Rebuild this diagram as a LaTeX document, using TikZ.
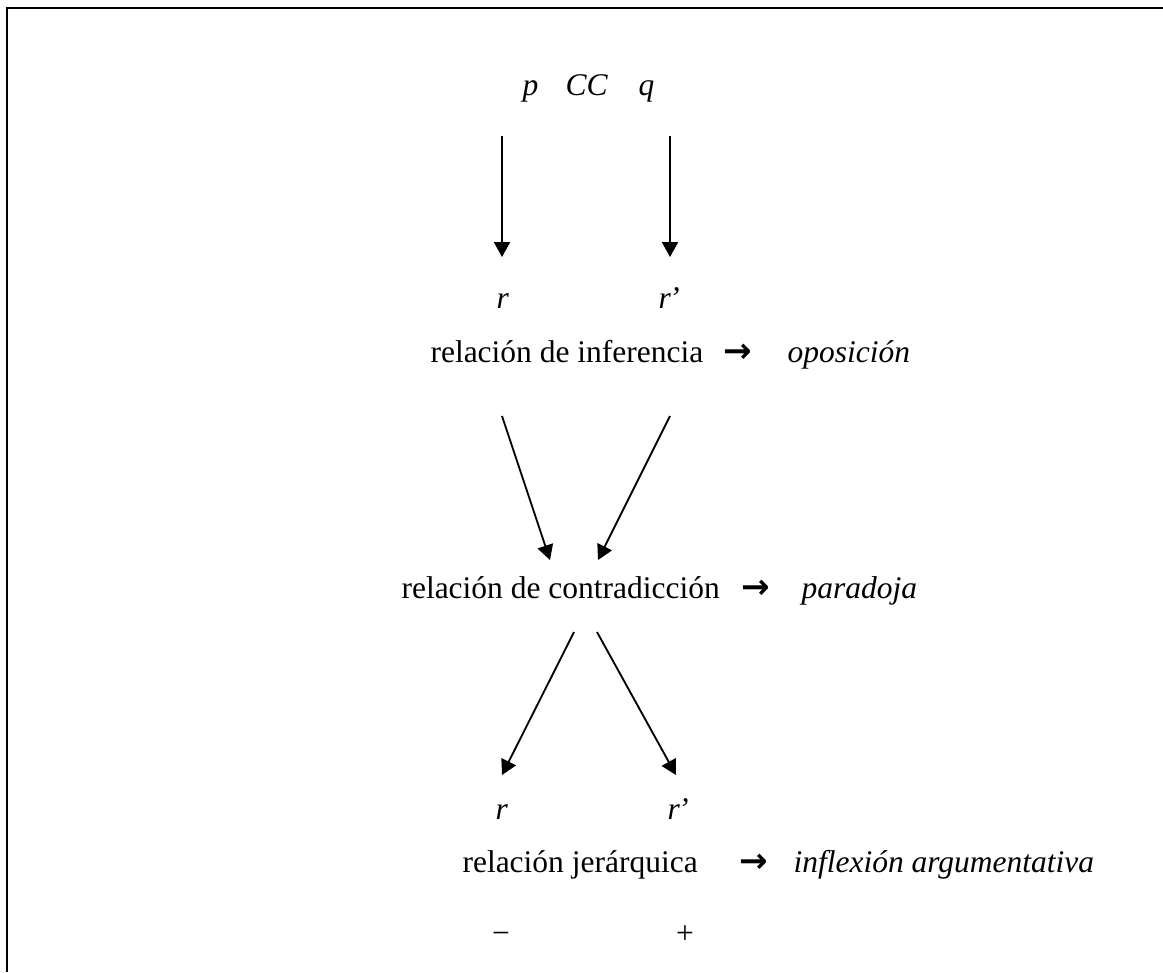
\documentclass[tikz,border=0pt]{standalone}
\usepackage{fontspec}
\setmainfont{Liberation Serif}
\newfontfamily\arrowfont{DejaVu Sans}
\usetikzlibrary{arrows.meta}

\begin{document}
\begin{tikzpicture}[
  x=0.381pt, y=-0.381pt,
  txt/.style={inner sep=0pt, anchor=base west, font=\fontsize{12}{14}\selectfont},
  itxt/.style={txt, font=\fontsize{12}{14}\selectfont\itshape},
  sym/.style={txt, font=\fontsize{13}{15}\selectfont\arrowfont\bfseries},
  arrow/.style={-{Triangle[length=5.7pt, width=6.1pt]}, line width=0.7pt}
]
  \useasboundingbox (0,0) rectangle (1163,972);
  \draw[line width=0.76pt] (7,972) -- (7,7.7) -- (1163,7.7);

  \node[itxt] (p) at (522,95) {p};
  \node[itxt] (cc) at (565,95) {CC};
  \node[itxt] (q) at (638,95) {q};

  \node[itxt] (r1) at (496,308) {r};
  \node[itxt] (r1p) at (658,308) {r\kern-0.6pt’};
  \node[txt] (inf) at (430,362) {relación de inferencia};
  \node[sym] (to1) at (723,362) {→};
  \node[itxt] (opo) at (787,362) {oposición};

  \node[txt] (con) at (401,598) {relación de contradicción};
  \node[sym] (to2) at (741,598) {→};
  \node[itxt] (par) at (801,598) {paradoja};

  \node[itxt] (r2) at (495,819) {r};
  \node[itxt] (r2p) at (667,819) {r\kern-0.6pt’};
  \node[txt] (jer) at (462,872) {relación jerárquica};
  \node[sym] (to3) at (739,872) {→};
  \node[itxt] (infl) at (793,872) {inflexión argumentativa};
  \node[txt, anchor=base] (minus) at (501,943) {−};
  \node[txt, anchor=base] (plus) at (685,943) {+};

  \coordinate (a1) at (502,136);
  \coordinate (b1) at (502,257);
  \coordinate (a2) at (670,136);
  \coordinate (b2) at (670,257);
  \coordinate (c1) at (502,416);
  \coordinate (d1) at (550,560);
  \coordinate (c2) at (670,416);
  \coordinate (d2) at (598,560);
  \coordinate (e1) at (574,632);
  \coordinate (f1) at (502,775);
  \coordinate (e2) at (597,632);
  \coordinate (f2) at (676,775);

  \draw[arrow] (a1) -- (b1);
  \draw[arrow] (a2) -- (b2);
  \draw[arrow] (c1) -- (d1);
  \draw[arrow] (c2) -- (d2);
  \draw[arrow] (e1) -- (f1);
  \draw[arrow] (e2) -- (f2);
\end{tikzpicture}
\end{document}
